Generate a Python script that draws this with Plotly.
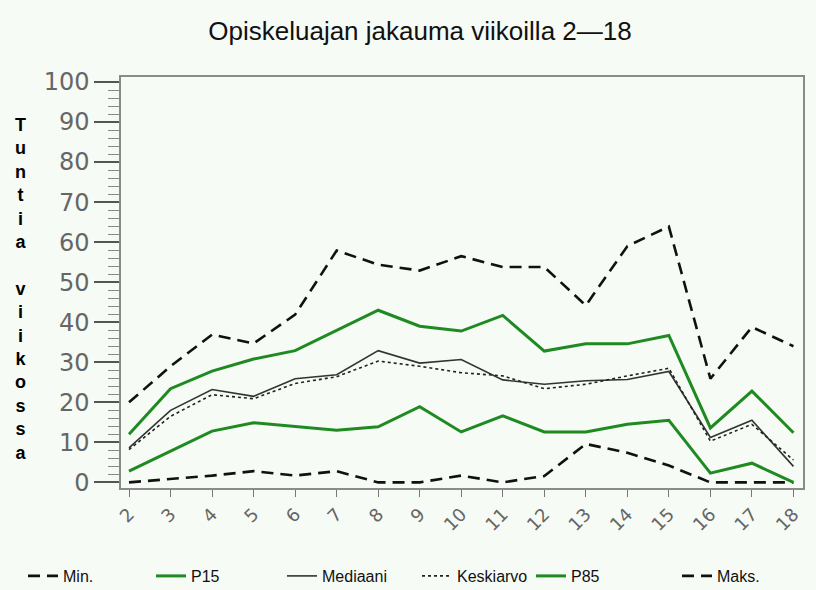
import plotly.graph_objects as go

weeks = list(range(2, 19))
week_labels = [str(w) for w in weeks]

minimum  = [0, 0.9, 1.7, 2.8, 1.7, 2.8, 0, 0, 1.7, 0, 1.6, 9.6, 7.4, 4.2, 0, 0, 0]
p15      = [2.8, 7.8, 12.8, 14.9, 13.9, 13.0, 13.9, 18.9, 12.6, 16.6, 12.6, 12.6, 14.5, 15.5, 2.3, 4.8, 0]
mediaani = [8.6, 18.0, 23.2, 21.5, 25.9, 26.9, 32.9, 29.8, 30.7, 25.6, 24.5, 25.4, 25.7, 27.7, 11.2, 15.5, 4.0]
keskiarvo = [8.2, 16.5, 21.9, 20.9, 24.7, 26.4, 30.3, 29.0, 27.4, 26.6, 23.4, 24.5, 26.6, 28.5, 10.3, 14.5, 5.6]
p85      = [12.0, 23.4, 27.8, 30.8, 32.9, 38.0, 43.0, 39.0, 37.8, 41.7, 32.8, 34.6, 34.6, 36.7, 13.6, 22.8, 12.4]
maksimi  = [20.0, 29.0, 36.9, 34.7, 41.9, 57.9, 54.4, 52.9, 56.5, 53.8, 53.8, 44.2, 59.0, 63.9, 25.9, 38.8, 34.0]

y_ticks = list(range(0, 101, 10))

BG = "#f6fbf5"
GREEN = "#1f8a22"
DASH = "12px,7px"
SANS = "Liberation Sans, Arial, sans-serif"

series = [
    ("Min.", minimum, dict(color="#111111", width=2.6, dash=DASH)),
    ("P15", p15, dict(color=GREEN, width=3)),
    ("Mediaani", mediaani, dict(color="#333333", width=1.6)),
    ("Keskiarvo", keskiarvo, dict(color="#222222", width=1.6, dash="dot")),
    ("P85", p85, dict(color=GREEN, width=3)),
    ("Maks.", maksimi, dict(color="#111111", width=2.6, dash=DASH)),
]
legend_x_px = [23, 151, 282, 417, 531, 677]

fig = go.Figure()
legend_layout = {}
for i, (name, vals, line) in enumerate(series):
    key = "legend" if i == 0 else f"legend{i+1}"
    fig.add_trace(go.Scatter(x=weeks, y=vals, name=name, mode="lines",
                             line=line, legend=key))
    legend_layout[key] = dict(
        orientation="h", xref="container", yref="container",
        x=legend_x_px[i]/816, xanchor="left", y=14/590, yanchor="middle",
        font=dict(family=SANS, size=16, color="#111111"),
        bgcolor="rgba(0,0,0,0)", itemwidth=30)

fig.update_layout(
    width=816, height=590,
    margin=dict(l=121, r=13, t=77, b=101.5, autoexpand=False),
    paper_bgcolor=BG, plot_bgcolor=BG,
    title=dict(text="Opiskeluajan jakauma viikoilla 2\u201418",
               x=420/816, xanchor="center", xref="container",
               y=1-31/590, yanchor="middle", yref="container",
               font=dict(family=SANS, size=26, color="#111111")),
    showlegend=True,
    xaxis=dict(range=[1.807, 18.23], tickmode="array", tickvals=weeks,
               ticktext=week_labels, tickangle=-45,
               ticks="outside", ticklen=7, tickcolor="#777777", tickwidth=1,
               showgrid=False, zeroline=False,
               showline=True, linecolor="#8a8a8a", linewidth=1.5, mirror=True,
               tickfont=dict(family="DejaVu Sans", size=18, color="#666666")),
    yaxis=dict(range=[-1.4, 101.25], tickmode="array", tickvals=y_ticks,
               ticks="outside", ticklen=25, tickcolor="#555555", tickwidth=2,
               minor=dict(dtick=2, tick0=0, ticks="outside", ticklen=11,
                          tickcolor="#888888", tickwidth=1, showgrid=False),
               showgrid=False, zeroline=False,
               showline=True, linecolor="#8a8a8a", linewidth=1.5, mirror=True,
               tickfont=dict(family="DejaVu Sans", size=24, color="#666666")),
    **legend_layout,
)

ylabel = "<br>".join(list("Tuntia") + ["\u00a0"] + list("viikossa"))
fig.add_annotation(text="<b>" + ylabel + "</b>", xref="paper", yref="paper",
                   x=(20-121)/682, y=0.485, xanchor="center", yanchor="middle",
                   showarrow=False, align="center",
                   font=dict(family=SANS, size=18, color="#000000"))

fig.write_html("out.html",
               config={"displayModeBar": False},
               post_script="document.body.style.margin='0';document.body.style.overflow='hidden';")
